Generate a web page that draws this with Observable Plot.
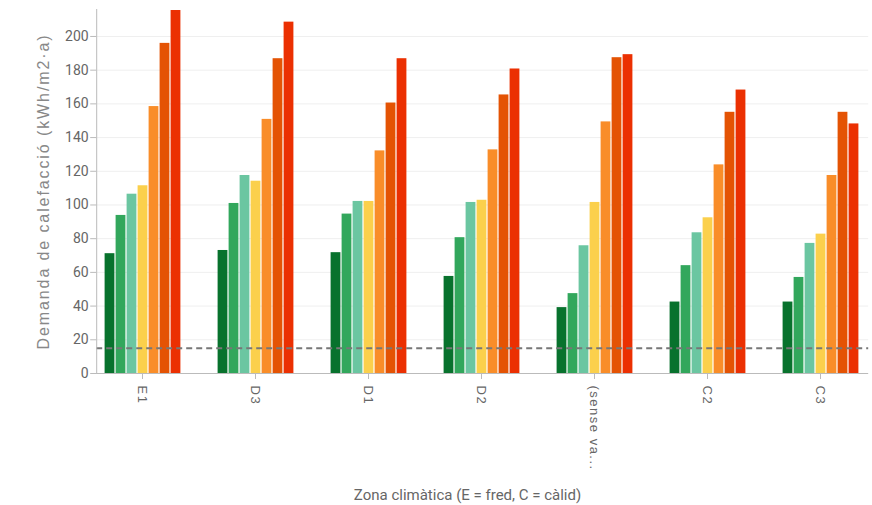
<!DOCTYPE html>
<html>
<head>
<meta charset="utf-8">
<script src="https://cdn.jsdelivr.net/npm/d3@7"></script>
<script src="https://cdn.jsdelivr.net/npm/@observablehq/plot@0.6"></script>
<style>
  html, body { margin: 0; padding: 0; background: #fff; }
  #chart svg { display: block; }
</style>
</head>
<body>
<div id="chart"></div>
<script>
// Climate zones (x categories)
const zones = ["E1", "D3", "D1", "D2", "(sense va...", "C2", "C3"];
// Seven series per zone (left to right within each group)
const seriesNames = ["S1", "S2", "S3", "S4", "S5", "S6", "S7"];
const seriesColors = ["#08722d", "#32a75c", "#6bc6a1", "#fbd04c", "#f98d29", "#e45304", "#eb3002"];
// Values per series, in the order of zones
const s1 = [71.1, 73.0, 71.7, 57.6, 39.1, 42.4, 42.4];
const s2 = [93.8, 100.9, 94.6, 80.6, 47.4, 64.0, 57.0];
const s3 = [106.4, 117.5, 102.1, 101.5, 75.8, 83.5, 77.2];
const s4 = [111.4, 114.1, 102.1, 102.8, 101.5, 92.4, 82.7];
const s5 = [158.4, 150.8, 132.1, 132.7, 149.3, 123.8, 117.5];
const s6 = [195.9, 186.8, 160.5, 165.3, 187.4, 155.0, 155.0];
const s7 = [215.4, 208.5, 186.8, 180.7, 189.2, 168.2, 148.1];
const seriesValues = [s1, s2, s3, s4, s5, s6, s7];
// Reference threshold (dashed line)
const threshold = [15];
// Y ticks
const yTicks = [0, 20, 40, 60, 80, 100, 120, 140, 160, 180, 200];

const data = [];
zones.forEach((z, i) => {
  seriesNames.forEach((s, j) => {
    data.push({zone: z, series: s, value: seriesValues[j][i]});
  });
});

const W = 872, ML = 95, MR = 5;
const innerW = W - ML - MR;
const padIn = 0.31, padOut = 0.06;
// distance between the frame's left edge and the first facet (band outer padding)
const off = padOut * innerW / (zones.length - padIn + 2 * padOut);

const chart = Plot.plot({
  width: W,
  height: 505,
  marginLeft: ML,
  marginRight: MR,
  marginTop: 9,
  marginBottom: 132,
  style: {fontFamily: "Roboto, sans-serif", fontSize: "13px", color: "#666", background: "#fff"},
  fx: {domain: zones, paddingInner: padIn, paddingOuter: padOut},
  x: {domain: seriesNames, padding: 0, axis: null},
  y: {domain: [0, 216], ticks: yTicks},
  color: {domain: seriesNames, range: seriesColors},
  marks: [
    // horizontal grid spanning the whole frame
    Plot.axisY({ticks: yTicks.slice(1), tickSize: -innerW, dx: -off, text: null, label: null, stroke: "#efefef", strokeOpacity: 1}),
    Plot.barY(data, {fx: "zone", x: "series", y: "value", fill: "series", insetLeft: 0.6, insetRight: 0.6}),
    // dashed threshold line spanning the whole frame
    Plot.axisY({ticks: threshold, tickSize: -innerW, dx: -off, text: null, label: null, stroke: "#777", strokeOpacity: 1, strokeWidth: 2, strokeDasharray: "6,4"}),
    // axis lines
    Plot.axisY({ticks: [0], tickSize: -innerW, dx: -off, text: null, label: null, stroke: "#bbb", strokeOpacity: 1}),
    Plot.frame({anchor: "left", facetAnchor: "left", dx: -off, stroke: "#bbb"}),
    Plot.axisY({ticks: yTicks, tickSize: 6, tickPadding: 2, dx: -off, stroke: "#bbb", strokeOpacity: 1, fill: "#666",
      fontSize: 14,
      label: "Demanda de calefacció (kWh/m2·a)", labelAnchor: "center", labelArrow: "none", labelOffset: 66}),
    Plot.axisFx({anchor: "bottom", tickRotate: 90, tickSize: 6, tickPadding: 6, stroke: "#bbb", strokeOpacity: 1, fill: "#666",
      fontFamily: "'Liberation Sans', Arial, sans-serif", fontSize: 13,
      label: "Zona climàtica (E = fred, C = càlid)", labelAnchor: "center", labelArrow: "none", labelOffset: 126})
  ]
});
document.getElementById("chart").appendChild(chart);

// style axis texts
chart.querySelectorAll("g[aria-label='y-axis label'] text").forEach(t => {
  t.setAttribute("font-family", "'Liberation Sans', Arial, sans-serif");
  t.setAttribute("font-size", "16");
  t.setAttribute("letter-spacing", "1.9");
  t.setAttribute("fill", "#888");
});
chart.querySelectorAll("g[aria-label='fx-axis tick label'] text").forEach(t => {
  t.setAttribute("letter-spacing", "1.5");
});
chart.querySelectorAll("g[aria-label='fx-axis label'] text").forEach(t => {
  t.setAttribute("font-family", "Roboto, sans-serif");
  t.setAttribute("font-size", "15");
  t.setAttribute("fill", "#666");
  t.setAttribute("dx", "-14");
});
</script>
</body>
</html>
